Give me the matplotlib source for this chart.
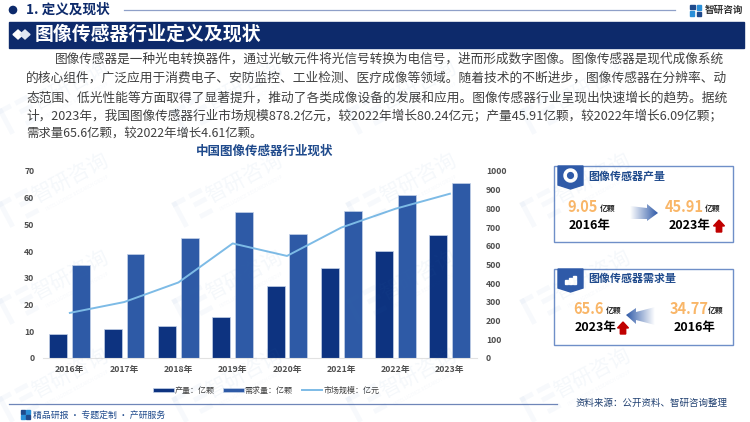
import numpy as np
from matplotlib import pyplot as plt
from matplotlib.patches import Circle, Polygon, Rectangle, Wedge
from matplotlib.transforms import Affine2D

plt.rcParams['font.family'] = ['Noto Sans CJK SC', 'DejaVu Sans']

years = ['2016年', '2017年', '2018年', '2019年', '2020年', '2021年', '2022年', '2023年']
chanliang = [9.05, 10.8, 11.7, 15.2, 26.8, 33.8, 39.82, 45.91]
xuqiu = [34.77, 38.8, 45.0, 54.5, 46.4, 55.0, 60.99, 65.6]
shichang = [240, 298, 403, 612, 545, 697, 798.0, 878.2]

legend_labels = ['产量：亿颗', '需求量：亿颗', '市场规模：亿元']
chart_title = '中国图像传感器行业现状'
page_title = '图像传感器行业定义及现状'
section_title = '1. 定义及现状'
body_lines = [
    '图像传感器是一种光电转换器件，通过光敏元件将光信号转换为电信号，进而形成数字图像。图像传感器是现代成像系统',
    '的核心组件，广泛应用于消费电子、安防监控、工业检测、医疗成像等领域。随着技术的不断进步，图像传感器在分辨率、动',
    '态范围、低光性能等方面取得了显著提升，推动了各类成像设备的发展和应用。图像传感器行业呈现出快速增长的趋势。据统',
    '计，2023年，我国图像传感器行业市场规模878.2亿元，较2022年增长80.24亿元；产量45.91亿颗，较2022年增长6.09亿颗；',
    '需求量65.6亿颗，较2022年增长4.61亿颗。',
]

NAVY = '#0d2a6b'
BLUE = '#1f4a8c'
ORANGE = '#f9b668'
W, H = 750, 422

fig = plt.figure(figsize=(7.5, 4.22), dpi=100, facecolor='white')

# decoration layer in pixel coords
bg = fig.add_axes([0, 0, 1, 1], zorder=0)
bg.set_xlim(0, W)
bg.set_ylim(H, 0)
bg.axis('off')

# header
bg.add_patch(Circle((13, 10), 3.6, color=NAVY))
bg.text(26, 9.5, section_title, color=NAVY, fontsize=9.8, fontweight='bold', va='center')
bg.plot([124, 675], [9.5, 9.5], color='#8fa0c8', lw=0.9)
bg.add_patch(Rectangle((690, 5), 5, 4, color='#1f4a8c'))
bg.add_patch(Rectangle((690, 11), 4, 5, color='#2a8fd8'))
bg.add_patch(Rectangle((696.5, 5), 4, 5, color='#2a8fd8'))
bg.add_patch(Rectangle((696.5, 12), 4, 4, color='#1f4a8c'))
bg.text(705, 9.5, '智研咨询', color='#333333', fontsize=6.9, fontweight='bold', va='center')

# banner
bg.add_patch(Rectangle((9, 22), 735, 26, color=NAVY))
bg.add_patch(Polygon([(13, 34.5), (18, 30), (23, 34.5), (18, 39)], color='white'))
bg.add_patch(Polygon([(20, 34.5), (25, 30), (30, 34.5), (25, 39)], color='#dfe6f2'))
bg.text(35, 34.5, page_title, color='white', fontsize=13.6, fontweight='bold', va='center')

# body text, each line sized to fill its width
fig.canvas.draw()
rend = fig.canvas.get_renderer()
line_y = [59, 78, 98, 116, 134]
line_x = [55, 26, 26, 26, 26]
line_end = [726, 726, 726, 724, 262]
for s, y, x0, x1 in zip(body_lines, line_y, line_x, line_end):
    t = bg.text(x0, y, s, color='#404040', fontsize=9.2, va='center')
    w = t.get_window_extent(rend).width
    t.set_fontsize(9.2 * (x1 - x0) / w)

# chart
ax = fig.add_axes([42.7 / W, 1 - 357.7 / H, 434.3 / W, 186.7 / H], zorder=2)
ax.patch.set_alpha(0)
x = np.arange(len(years))
ax.bar(x - 0.21, chanliang, 0.33, color='#0d3380', edgecolor='#c5d2e8', lw=0.5, label=legend_labels[0])
ax.bar(x + 0.21, xuqiu, 0.33, color='#2e5aa6', edgecolor='#c5d2e8', lw=0.5, label=legend_labels[1])
ax.set_xlim(-0.5, 7.5)
ax.set_ylim(0, 70)
ax.set_yticks(range(0, 71, 10))
ax.set_xticks(x)
ax.set_xticklabels(years)
ax.tick_params(length=0, labelsize=6.3, labelcolor='#505050')
ax.tick_params(axis='x', pad=5)
ax.tick_params(axis='y', pad=6)
for lab in ax.get_xticklabels() + ax.get_yticklabels():
    lab.set_fontweight('bold')
for s in ['top', 'left', 'right']:
    ax.spines[s].set_visible(False)
ax.spines['bottom'].set_color('#e2e2e2')

ax2 = ax.twinx()
ax2.patch.set_alpha(0)
ax2.plot(x, shichang, color='#7dbbe6', lw=1.4, label=legend_labels[2])
ax2.set_ylim(0, 1000)
ax2.set_yticks(range(0, 1001, 100))
ax2.tick_params(length=0, labelsize=6.3, labelcolor='#505050', pad=6.5)
for lab in ax2.get_yticklabels():
    lab.set_fontweight('bold')
for s in ['top', 'left', 'right', 'bottom']:
    ax2.spines[s].set_visible(False)

h1, l1 = ax.get_legend_handles_labels()
h2, l2 = ax2.get_legend_handles_labels()
ax2.legend(h1 + h2, l1 + l2, ncol=3, frameon=False, prop={'size': 5.75},
           labelcolor='#404040', loc='center', bbox_to_anchor=(266 / W, 1 - 390 / H),
           bbox_transform=fig.transFigure, handlelength=2.6, handleheight=0.45,
           handletextpad=0.1, columnspacing=1.1, borderpad=0)

bg.text(264.5, 151, chart_title, color=BLUE, fontsize=9, fontweight='bold', ha='center', va='center')

# footer
bg.plot([9, 557], [404, 404], color='#6f86b8', lw=0.9)
bg.add_patch(Rectangle((21, 410), 4, 4, color='#1f4a8c'))
bg.add_patch(Rectangle((21, 415), 4, 4, color='#2a8fd8'))
bg.add_patch(Rectangle((26, 410), 4, 4, color='#2a8fd8'))
bg.add_patch(Rectangle((26, 415), 4, 4, color='#1f4a8c'))
bg.text(33, 415, '精品研报 · 专题定制 · 产研服务', color=BLUE, fontsize=6.4, va='center')
bg.text(728, 403, '资料来源：公开资料、智研咨询整理', color='#1f3f70', fontsize=6.8, ha='right', va='center')


def ribbon(top):
    bg.add_patch(Polygon([(558, top), (583, top), (583, top + 19), (570.5, top + 23), (558, top + 19)],
                         color='#2f5aa8', zorder=3))


def arrow(pts, left_dark):
    # gradient arrow, pale on the tail side
    g = np.linspace(0, 1, 64) if not left_dark else np.linspace(1, 0, 64)
    c0 = np.array([1, 1, 1])
    c1 = np.array([0x2f, 0x5a, 0xa8]) / 255
    img = np.array([c0 + (c1 - c0) * v for v in g])[None, :, :]
    xs = [p[0] for p in pts]
    ys = [p[1] for p in pts]
    im = bg.imshow(img, extent=(min(xs), max(xs), max(ys), min(ys)), aspect='auto', zorder=3)
    im.set_clip_path(Polygon(pts, transform=bg.transData))


def up_arrow(cx, cy):
    bg.add_patch(Polygon([(cx, cy - 6), (cx + 5.5, cy), (cx + 2.7, cy), (cx + 2.7, cy + 6),
                          (cx - 2.7, cy + 6), (cx - 2.7, cy), (cx - 5.5, cy)], color='#c00000', zorder=4))


# card 1
bg.add_patch(Rectangle((554, 166), 179, 76, fc='white', ec='#6f8fc8', lw=1, zorder=2))
ribbon(166)
bg.add_patch(Wedge((570.5, 175.5), 6.5, 0, 360, width=2.2, color='white', zorder=4))
bg.text(588, 177, '图像传感器产量', color=BLUE, fontsize=7.9, fontweight='bold', va='center', zorder=4)
bg.text(567, 207, '9.05', color=ORANGE, fontsize=10.5, fontweight='bold', va='center', zorder=4)
bg.text(600, 208, '亿颗', color='#262626', fontsize=5.6, fontweight='bold', va='center', zorder=4)
bg.text(569, 226, '2016年', color='black', fontsize=9, fontweight='bold', va='center', zorder=4)
bg.text(665, 207, '45.91', color=ORANGE, fontsize=10.5, fontweight='bold', va='center', zorder=4)
bg.text(705, 208, '亿颗', color='#262626', fontsize=5.6, fontweight='bold', va='center', zorder=4)
bg.text(669, 226, '2023年', color='black', fontsize=9, fontweight='bold', va='center', zorder=4)
up_arrow(719, 226)
arrow([(630, 206), (647, 208), (647, 204), (658, 213), (647, 221), (647, 219), (630, 219)], False)

# card 2
bg.add_patch(Rectangle((554, 269), 179, 76, fc='white', ec='#6f8fc8', lw=1, zorder=2))
ribbon(269)
for i, hh in enumerate([4, 6, 8]):
    bg.add_patch(Rectangle((565 + i * 4, 284 - hh), 2.6, hh, color='white', zorder=4))
bg.text(588, 279, '图像传感器需求量', color=BLUE, fontsize=7.9, fontweight='bold', va='center', zorder=4)
bg.text(573, 309, '65.6', color=ORANGE, fontsize=10.5, fontweight='bold', va='center', zorder=4)
bg.text(606, 310, '亿颗', color='#262626', fontsize=5.6, fontweight='bold', va='center', zorder=4)
bg.text(575, 328, '2023年', color='black', fontsize=9, fontweight='bold', va='center', zorder=4)
bg.text(670, 309, '34.77', color=ORANGE, fontsize=10.5, fontweight='bold', va='center', zorder=4)
bg.text(708, 310, '亿颗', color='#262626', fontsize=5.6, fontweight='bold', va='center', zorder=4)
bg.text(674, 328, '2016年', color='black', fontsize=9, fontweight='bold', va='center', zorder=4)
up_arrow(623, 328)
arrow([(655, 307), (636, 312), (636, 308), (626, 315), (636, 324), (636, 320), (655, 325)], True)
bg.set_xlim(0, W)
bg.set_ylim(H, 0)

# watermark on top of everything
wm = fig.add_axes([0, 0, 1, 1], zorder=5)
wm.set_xlim(0, W)
wm.set_ylim(H, 0)
wm.axis('off')
WM = '#3a78b8'
for cy in [85, 178, 275, 373]:
    for col in range(4):
        cx = 70 + 174 * col
        wm.text(cx, cy, '智研咨询', color=WM, alpha=0.05, fontsize=15, rotation=28,
                ha='center', va='center', rotation_mode='anchor')
        wm.text(cx + 7, cy + 15, 'INTELLIGENCE RESEARCH GROUP', color=WM, alpha=0.045, fontsize=3.2,
                rotation=28, ha='center', va='center', rotation_mode='anchor')
        tr = Affine2D().rotate_deg(-28).translate(cx - 52, cy + 30) + wm.transData
        for rx, ry, rw, rh in [(-16, -14, 14, 5), (-16, -14, 5, 28), (3, -14, 14, 5), (3, -4, 14, 5), (3, 9, 14, 5)]:
            wm.add_patch(Rectangle((rx, ry), rw, rh, color=WM, alpha=0.04, lw=0, transform=tr))

fig.savefig('out.png', dpi=100)
